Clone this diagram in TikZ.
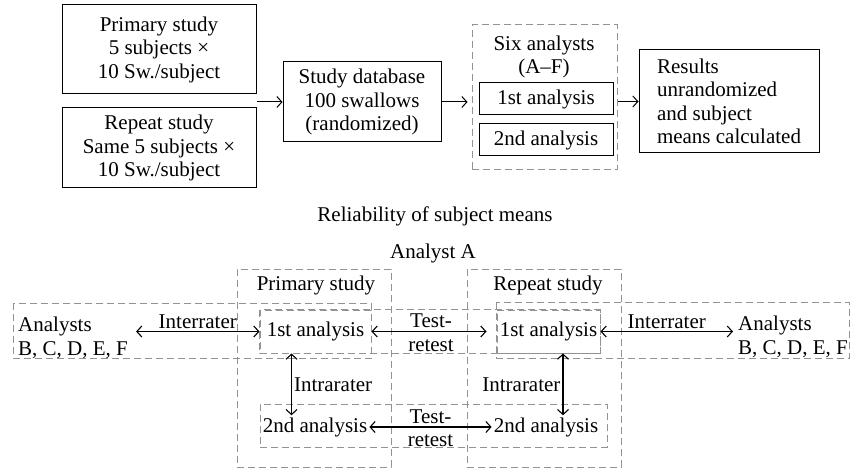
\documentclass[tikz,border=0pt]{standalone}
\usepackage{fontspec}
\setmainfont{Liberation Serif}
\usetikzlibrary{arrows.meta}
\begin{document}
\begin{tikzpicture}[x=1pt,y=-1pt,
	>={Straight Barb[length=5pt,width=11pt]},
	every node/.style={font=\fontsize{21}{23.5}\selectfont, inner sep=2pt},
	solidbox/.style={draw, line width=1pt, align=center},
	dashbox/.style={draw=gray!85, line width=1pt, dash pattern=on 7pt off 4pt},
	link/.style={<->, line width=1.1pt},
	arr/.style={->, line width=1pt}]
	\useasboundingbox (0,0) rectangle (850,470);
	
	\node[solidbox, minimum width=194, minimum height=89] (primary) at (159,49.5){Primary study\\5 subjects ×\\10 Sw./subject};
	\node[solidbox, minimum width=194, minimum height=80] (repeat) at (159,148){Repeat study\\Same 5 subjects ×\\10 Sw./subject};
	\node[solidbox, minimum width=158, minimum height=80] (db) at (362,102){Study database\\100 swallows\\(randomized)};
	\node[dashbox, minimum width=145, minimum height=145] (six) at (544.5,97.5){};
	\node[align=center] (sixlabel) at (544,57){Six analysts\\(A–F)};
	\node[solidbox, minimum width=134, minimum height=32] (firstA) at (546,99){1st analysis};
	\node[solidbox, minimum width=134, minimum height=32] (secondA) at (546,140){2nd analysis};
	\node[solidbox, align=left, minimum width=180, minimum height=103] (results) at (729,101.5){Results\\unrandomized\\and subject\\means calculated};
	\draw[arr] (db.west -| primary.east) -- (db.west);
	\draw[arr] (db.east) -- ([xshift=-4pt]six.west |- db.east);
	\draw[arr] (six.east |- results.west) -- (results.west);
	
	\node (reliab) at (435,216){Reliability of subject means};
	\node (analystA) at (433,253){Analyst A};
	
	\node[dashbox, minimum width=154, minimum height=198] (primstudy) at (314,368){};
	\node[dashbox, minimum width=154, minimum height=198] (repstudy) at (544,368){};
	\node (primlabel) at (316,285){Primary study};
	\node (replabel) at (548,285){Repeat study};
	\node[dashbox, minimum width=111, minimum height=43] (first1) at (315.5,331.5){1st analysis};
	\node[dashbox, minimum width=103, minimum height=43] (first2) at (548.5,331.5){1st analysis};
	\draw[dashbox] (first1.north west) rectangle (first2.south east);
	\draw[dashbox] (13,303) rectangle (first1.east |- 0,358);
	\draw[dashbox] (first2.west |- 0,302) rectangle (849,358);
	\node[dashbox, minimum width=347, minimum height=43] (row2) at (433.5,425.5){};
	\node (second1) at (315,427){2nd analysis};
	\node (second2) at (546,427){2nd analysis};
	\node[align=left, anchor=west, inner sep=0pt] (analystsL) at (18,338){Analysts\\B, C, D, E, F};
	\node[align=left, anchor=west, inner sep=0pt] (analystsR) at (738,337){Analysts\\B, C, D, E, F};
	
	\draw[link] ([xshift=8pt]analystsL.east |- first1.west) -- (first1.west) node[midway, above]{Interrater};
	\draw[link] (first2.east) -- ([xshift=-5pt]analystsR.west |- first2.east) node[midway, above]{Interrater};
	\draw[link, shorten >=10pt] (first1.east) -- (first2.west) node[midway, align=center, xshift=-3pt, yshift=-1pt]{Test-\\retest};
	\draw[link] (second1.east) -- (second2.west) node[midway, align=center, yshift=-1pt]{Test-\\retest};
	\draw[link] ([xshift=-24pt]first1.south) -- ([xshift=-24pt]first1.south |- second1.north) node[midway, right]{Intrarater};
	\draw[link] ([xshift=14.5pt]first2.south) -- ([xshift=14.5pt]first2.south |- second2.north) node[midway, left]{Intrarater};
\end{tikzpicture}
\end{document}
